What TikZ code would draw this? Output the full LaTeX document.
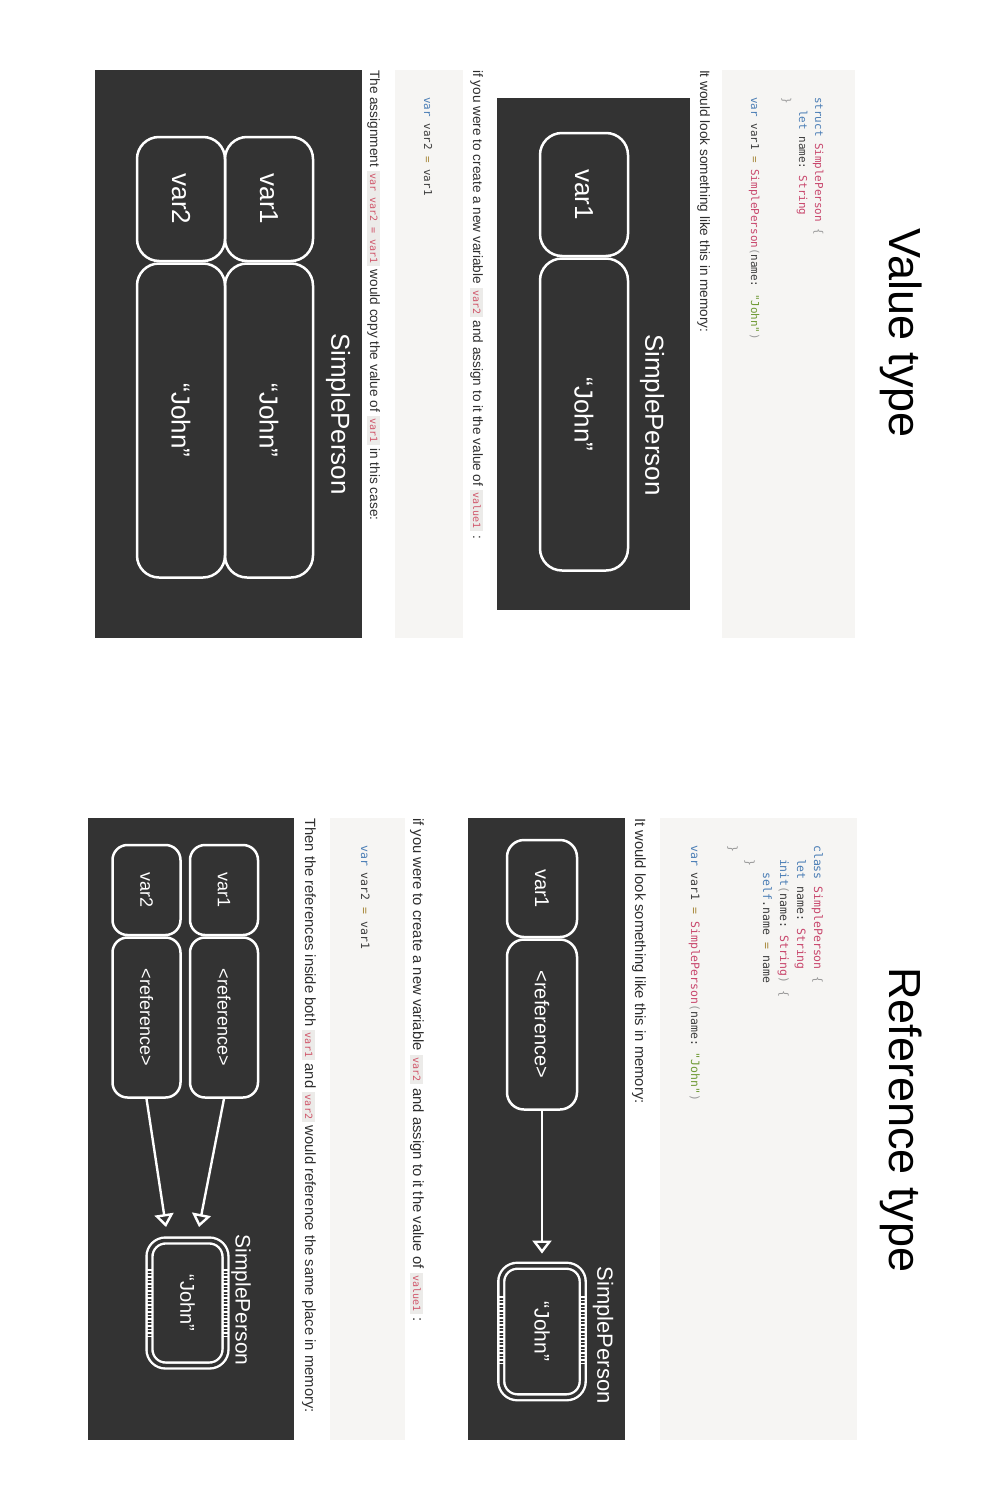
\documentclass[tikz,border=0pt]{standalone}
\usepackage{fontspec}
\setmainfont{Liberation Sans}
\setmonofont{DejaVu Sans Mono}
\usetikzlibrary{arrows.meta}

\definecolor{panelgray}{HTML}{333333}
\definecolor{codegray}{HTML}{F6F5F3}
\definecolor{inlinegray}{HTML}{ECEBE9}
\definecolor{kwblue}{HTML}{4A7DB5}
\definecolor{typered}{HTML}{C8466C}
\definecolor{strgreen}{HTML}{6F9A34}
\definecolor{eqolive}{HTML}{A8893C}
\definecolor{bracegray}{HTML}{9A9A9A}
\definecolor{codeplain}{HTML}{3C3C3C}
\definecolor{textgray}{HTML}{2E2E2E}
\definecolor{codered}{HTML}{D0566A}

\newcommand{\ckw}[1]{\textcolor{kwblue}{#1}}
\newcommand{\cty}[1]{\textcolor{typered}{#1}}
\newcommand{\cstr}[1]{\textcolor{strgreen}{#1}}
\newcommand{\ceq}[1]{\textcolor{eqolive}{#1}}
\newcommand{\cbr}[1]{\textcolor{bracegray}{#1}}
\newcommand{\inl}[1]{{\setlength{\fboxsep}{2.5pt}\colorbox{inlinegray}{\fontsize{10}{11}\ttfamily\textcolor{codered}{#1}}}}

\begin{document}
\begin{tikzpicture}[x=1pt, y=1pt, rotate=-90, transform shape,
    title/.style={font=\fontsize{45}{54}\selectfont, anchor=base, inner sep=0pt},
    para/.style={font=\fontsize{13.6}{16}\selectfont, text=textgray, anchor=base west, inner sep=0pt},
    rpara/.style={para, font=\fontsize{14.8}{17}\selectfont},
    code/.style={font=\fontsize{10.9}{12}\ttfamily, text=codeplain, anchor=base west, inner sep=0pt},
    rcode/.style={code, font=\fontsize{11.5}{13}\ttfamily},
    cell/.style={draw=white, line width=2.5pt, text=white, inner sep=0pt},
    bigcell/.style={cell, rounded corners=22pt, minimum height=88pt, font=\fontsize{26}{30}\selectfont},
    midcell/.style={cell, rounded corners=17pt, minimum height=70pt, font=\fontsize{20}{24}\selectfont},
    smallcell/.style={cell, rounded corners=15pt, minimum height=68pt, font=\fontsize{18}{22}\selectfont},
    objname/.style={text=white, inner sep=0pt},
    obj/.style={draw=white, double=panelgray, double distance=3.5pt, line width=2.4pt,
      rounded corners=16pt, text=white, inner sep=0pt},
    hatchline/.style={white, line width=1.1pt},
    ptr/.style={white, line width=2.4pt, -{Triangle[open, length=13pt, width=19pt]}}]

  \useasboundingbox (0,0) rectangle (1510,999);
  \fill[white] (0,0) rectangle (1510,999);

  % value type
  \node[title] (vtitle) at (333,889) {Value type};
  \fill[codegray] (70,722) rectangle (638,855);
  \node[code] (c1a) at (97,815) {\ckw{struct} \cty{SimplePerson} \cbr{\{}};
  \node[code] (c1b) at (97,799) {\phantom{xx}\ckw{let} name: \cty{String}};
  \node[code] (c1c) at (97,783) {\cbr{\}}};
  \node[code] (c1d) at (97,751) {\ckw{var} var1 \ceq{=} \cty{SimplePerson}\cbr{(}name: \cstr{"John"}\cbr{)}};
  \node[para] (s1) at (70,700) {It would look something like this in memory:};

  \fill[panelgray] (98,497) rectangle (610,690);
  \node[objname, font=\fontsize{26}{30}\selectfont] (p1name) at (415,652) {SimplePerson};
  \node[bigcell, minimum width=123pt] (p1var) at (194.5,584) {var1};
  \node[bigcell, minimum width=312pt, anchor=west] (p1val) at (p1var.east) {“John”};

  \node[para] (s2) at (70,473) {if you were to create a new variable \inl{var2} and assign to it the value of \inl{value1} :};
  \fill[codegray] (70,395) rectangle (638,463);
  \node[code] (c2) at (97,424) {\ckw{var} var2 \ceq{=} var1};
  \node[para] (s3) at (70,370) {The assignment \inl{var var2 = var1} would copy the value of \inl{var1} in this case:};

  \fill[panelgray] (70,95) rectangle (638,362);
  \node[objname, font=\fontsize{26}{30}\selectfont] (p2name) at (414,338) {SimplePerson};
  \node[bigcell, minimum width=124pt] (p2var1) at (199,269) {var1};
  \node[bigcell, minimum width=314pt, anchor=west] (p2val1) at (p2var1.east) {“John”};
  \node[bigcell, minimum width=124pt] (p2var2) at (199,181) {var2};
  \node[bigcell, minimum width=314pt, anchor=west] (p2val2) at (p2var2.east) {“John”};

  % reference type
  \node[title] (rtitle) at (1120,889) {Reference type};
  \fill[codegray] (818,660) rectangle (1440,857);
  \node[rcode] (c3a) at (845,814) {\ckw{class} \cty{SimplePerson} \cbr{\{}};
  \node[rcode] (c3b) at (845,797) {\phantom{xx}\ckw{let} name: \cty{String}};
  \node[rcode] (c3c) at (845,780) {\phantom{xx}\ckw{init}\cbr{(}name: \cty{String}\cbr{)} \cbr{\{}};
  \node[rcode] (c3d) at (845,763) {\phantom{xxxx}\ckw{self}.name \ceq{=} name};
  \node[rcode] (c3e) at (845,746) {\phantom{xx}\cbr{\}}};
  \node[rcode] (c3f) at (845,729) {\cbr{\}}};
  \node[rcode] (c3g) at (845,691) {\ckw{var} var1 \ceq{=} \cty{SimplePerson}\cbr{(}name: \cstr{"John"}\cbr{)}};
  \node[rpara] (s4) at (818,635) {It would look something like this in memory:};

  \fill[panelgray] (818,468) rectangle (1440,625);
  \node[objname, font=\fontsize{22}{26}\selectfont] (p3name) at (1335,603) {SimplePerson};
  \node[midcell, minimum width=97pt] (p3var) at (888.5,542) {var1};
  \node[midcell, minimum width=170pt, anchor=west] (p3ref) at (p3var.east) {<reference>};
  \node[obj, font=\fontsize{21}{25}\selectfont, minimum width=131.5pt, minimum height=81.5pt] (p3obj) at (1331.5,542) {“John”};
  \foreach \t in {1297,1300.5,...,1366} {
    \draw[hatchline] (\t,580) -- (\t,585);
    \draw[hatchline] (\t,499) -- (\t,504);
  }
  \draw[ptr, shorten >=11pt] (p3ref.east) -- (p3obj.west);

  \node[rpara] (s5) at (818,413) {if you were to create a new variable \inl{var2} and assign to it the value of \inl{value1} :};
  \fill[codegray] (818,330) rectangle (1440,405);
  \node[rcode] (c4) at (845,361) {\ckw{var} var2 \ceq{=} var1};
  \node[rpara] (s6) at (818,305) {Then the references inside both \inl{var1} and \inl{var2} would reference the same place in memory:};

  \fill[panelgray] (818,88) rectangle (1440,294);
  \node[objname, font=\fontsize{21}{25}\selectfont] (p4name) at (1300,241) {SimplePerson};
  \node[smallcell, minimum width=90pt] (p4var1) at (890,224) {var1};
  \node[smallcell, minimum width=160pt, anchor=west] (p4ref1) at (p4var1.east) {<reference>};
  \node[smallcell, minimum width=90pt] (p4var2) at (890,146.5) {var2};
  \node[smallcell, minimum width=160pt, anchor=west] (p4ref2) at (p4var2.east) {<reference>};
  \node[obj, font=\fontsize{20}{24}\selectfont, minimum width=125pt, minimum height=76pt] (p4obj) at (1303,187.5) {“John”};
  \foreach \t in {1270,1273.5,...,1337} {
    \draw[hatchline] (\t,223) -- (\t,228);
    \draw[hatchline] (\t,147) -- (\t,152);
  }
  \coordinate (p4tip1) at (1227,199);
  \coordinate (p4tip2) at (1227,166);
  \draw[ptr] (p4ref1.east) -- (p4tip1);
  \draw[ptr] (p4ref2.east) -- (p4tip2);
\end{tikzpicture}
\end{document}
